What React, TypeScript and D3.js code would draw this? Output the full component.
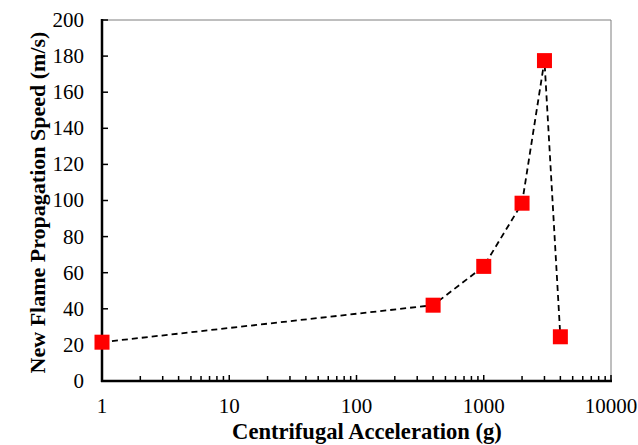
import React from 'react';
import * as d3 from 'd3';

// Data
const accelG = [1, 400, 1000, 2000, 3000, 4000];
const speedMs = [21.5, 42, 63.5, 98.5, 177.5, 24.5];
const yTicks = [0, 20, 40, 60, 80, 100, 120, 140, 160, 180, 200];
const xTicks = [1, 10, 100, 1000, 10000];

const W = 638;
const H = 445;
const margin = { top: 20, right: 27, bottom: 64, left: 102 };

const App = () => {
  const width = W - margin.left - margin.right;
  const height = H - margin.top - margin.bottom;

  const x = d3.scaleLog().domain([1, 10000]).range([0, width]);
  const y = d3.scaleLinear().domain([0, 200]).range([height, 0]);

  const points = accelG.map((g, i) => ({ g, v: speedMs[i] }));

  const line = d3
    .line<{ g: number; v: number }>()
    .x(d => x(d.g))
    .y(d => y(d.v));

  // minor ticks for each decade
  const minorTicks: number[] = [];
  for (let d = 1; d < 10000; d *= 10) {
    for (let k = 2; k <= 9; k++) minorTicks.push(d * k);
  }

  const textStyle = { fontFamily: "'Liberation Serif', 'DejaVu Serif', serif" };

  return (
    <svg width={W} height={H} style={{ position: 'absolute', left: 0, top: 0 }}>
      <g transform={`translate(${margin.left},${margin.top})`}>
        {/* frame (top and right) */}
        <line x1={0} x2={width} y1={0} y2={0} stroke="#7f7f7f" strokeWidth={1} />
        <line x1={width} x2={width} y1={0} y2={height} stroke="#7f7f7f" strokeWidth={1} />

        {/* y ticks */}
        {yTicks.map(t => (
          <g key={t}>
            <line x1={0} x2={6} y1={y(t)} y2={y(t)} stroke="#000" strokeWidth={1.5} />
            <text x={-18} y={y(t)} dy="0.33em" textAnchor="end" style={textStyle} fontSize={21}>
              {t}
            </text>
          </g>
        ))}

        {/* x ticks */}
        {minorTicks.map(t => (
          <line key={t} x1={x(t)} x2={x(t)} y1={height} y2={height - 5} stroke="#000" strokeWidth={1.5} />
        ))}
        {xTicks.map(t => (
          <g key={t}>
            <line x1={x(t)} x2={x(t)} y1={height} y2={height - 6} stroke="#000" strokeWidth={1.5} />
            <text x={x(t)} y={height + 32} textAnchor="middle" style={textStyle} fontSize={21}>
              {t}
            </text>
          </g>
        ))}

        {/* axes */}
        <line x1={0} x2={0} y1={-1} y2={height + 1} stroke="#000" strokeWidth={2.5} />
        <line x1={-1} x2={width + 1} y1={height} y2={height} stroke="#000" strokeWidth={2.5} />

        {/* series */}
        <path d={line(points) ?? ''} fill="none" stroke="#000" strokeWidth={1.8} strokeDasharray="6,4" />
        {points.map(p => (
          <rect key={p.g} x={x(p.g) - 7.5} y={y(p.v) - 7.5} width={15} height={15} fill="#ff0000" />
        ))}
      </g>

      {/* axis titles */}
      <text
        x={367}
        y={439}
        textAnchor="middle"
        style={textStyle}
        fontSize={22.6}
        fontWeight="bold"
      >
        Centrifugal Acceleration (g)
      </text>
      <text
        transform="translate(45,202.5) rotate(-90)"
        textAnchor="middle"
        style={textStyle}
        fontSize={22}
        fontWeight="bold"
      >
        New Flame Propagation Speed (m/s)
      </text>
    </svg>
  );
};

export default App;
